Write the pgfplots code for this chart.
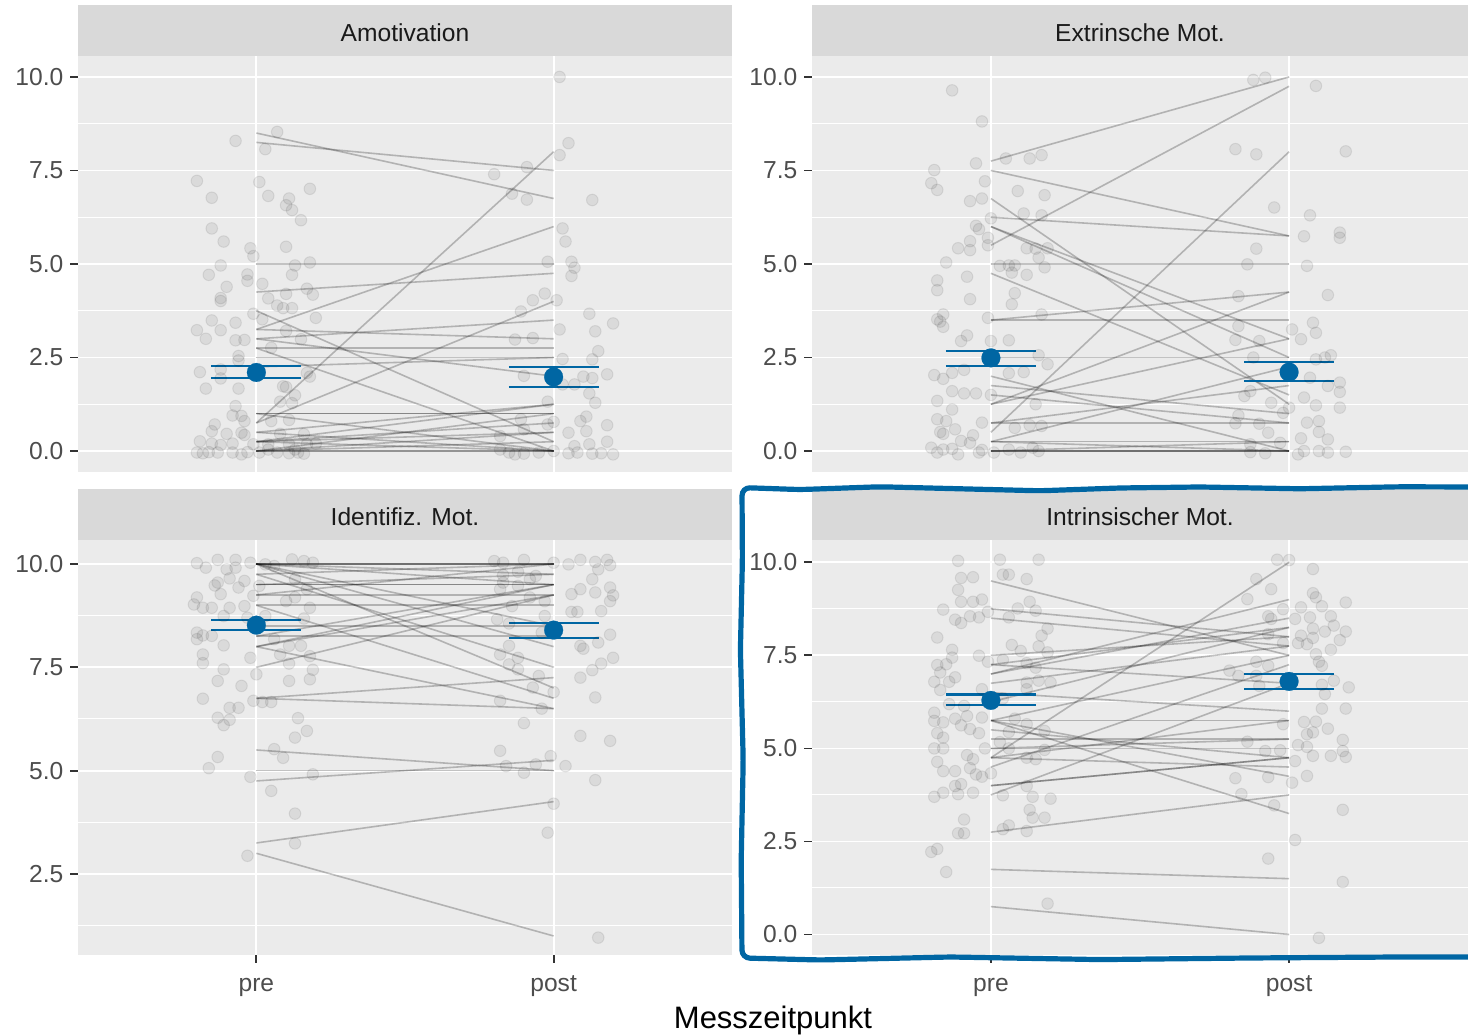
\documentclass[border=0pt]{standalone}
\usepackage{fontspec}
\setmainfont{Liberation Sans}
\usepackage{pgfplots}
\pgfplotsset{compat=1.18}
\definecolor{panelbg}{HTML}{EBEBEB}
\definecolor{stripbg}{HTML}{D9D9D9}
\definecolor{striptxt}{HTML}{1A1A1A}
\definecolor{ticklc}{HTML}{4D4D4D}
\definecolor{tickc}{HTML}{333333}
\definecolor{meanblue}{HTML}{0066A3}
\pgfplotsset{
  facet/.style={
    scale only axis, anchor=south west,
    xmin=0.4, xmax=2.6,
    axis background/.style={fill=panelbg},
    axis line style={draw=none},
    xtick={1,2},
    ytick={0,2.5,5,7.5,10},
    yticklabels={0.0,2.5,5.0,7.5,10.0},
    minor ytick={1.25,3.75,6.25,8.75},
    grid=both,
    major grid style={white, line width=0.9pt},
    minor grid style={white, line width=0.5pt},
    tick align=outside,
    major tick length=3.8pt,
    minor tick length=0pt,
    tick style={color=tickc, line width=0.9pt},
    tick pos=left,
    ticklabel style={font=\fontsize{12.3}{14}\selectfont, text=ticklc},
    xticklabel style={text height=0.72em, text depth=0.2em, yshift=-3.5pt},
    clip=true,
  },
  pts/.style={only marks, mark=*, mark size=2.9pt,
    mark options={fill=black, fill opacity=0.07, draw=black, draw opacity=0.08, line width=0.5pt}},
  segl/.style={black, draw opacity=0.24, line width=0.8pt, mark=none},
  meanpt/.style={only marks, mark=*, mark size=4.7pt, mark options={fill=meanblue, draw=meanblue, line width=0.1pt}},
  ebar/.style={meanblue, line width=1.15pt, mark=none},
}
\newcommand{\seg}[2]{\addplot[segl] coordinates {(1,#1) (2,#2)};}
\newcommand{\eb}[2]{\addplot[ebar] coordinates {(#1-0.151,#2) (#1+0.151,#2)};}
\begin{document}
\begin{tikzpicture}
\useasboundingbox (0,0) rectangle (734pt,518pt);
% strips
\fill[stripbg] (39pt,490pt) rectangle (366pt,515.5pt);
\fill[stripbg] (406pt,490pt) rectangle (734pt,515.5pt);
\fill[stripbg] (39pt,248pt) rectangle (366pt,273.5pt);
\fill[stripbg] (406pt,248pt) rectangle (734pt,273.5pt);
\node[text=striptxt, font=\fontsize{12.3}{14}\selectfont] at (202.5pt,501.8pt) {Amotivation};
\node[text=striptxt, font=\fontsize{12.3}{14}\selectfont] at (570pt,501.8pt) {Extrinsche Mot.};
\node[text=striptxt, font=\fontsize{12.3}{14}\selectfont] at (202.5pt,259.8pt) {Identifiz. Mot.};
\node[text=striptxt, font=\fontsize{12.3}{14}\selectfont] at (570pt,259.8pt) {Intrinsischer Mot.};

% ---------- Panel 1: Amotivation
\begin{axis}[facet, at={(39pt,282pt)}, width=327pt, height=208pt,
  ymin=-0.56, ymax=10.56, xticklabels={}, xtick style={draw=none}]
\addplot[pts] table {
0.93 8.29
1.07 8.53
1.03 8.07
0.80 7.22
1.01 7.19
0.85 6.77
1.04 6.82
1.18 7.01
1.11 6.75
1.10 6.57
1.12 6.44
1.15 6.17
0.85 5.95
0.89 5.60
0.98 5.42
0.99 5.21
1.10 5.46
1.18 5.04
1.13 4.96
0.88 4.96
0.84 4.71
1.12 4.71
0.97 4.72
0.97 4.55
1.02 4.47
0.90 4.39
1.17 4.34
1.19 4.18
1.10 4.20
0.88 4.09
0.88 4.01
1.04 4.08
1.07 3.89
1.09 3.82
1.12 3.82
0.99 3.67
0.85 3.49
0.93 3.43
1.02 3.52
1.20 3.56
0.80 3.23
0.88 3.23
0.83 3.00
0.93 2.96
0.96 2.97
1.10 3.21
1.15 2.99
1.05 2.76
0.94 2.54
0.94 2.42
0.81 2.11
0.88 2.18
0.88 1.94
1.17 2.09
1.18 1.99
0.83 1.67
0.94 1.67
1.09 1.73
1.13 1.49
1.10 1.71
0.93 1.20
1.08 1.32
1.12 1.28
0.92 0.95
0.95 0.94
0.96 0.80
1.05 0.80
1.11 0.83
0.86 0.71
0.85 0.53
0.90 0.46
0.95 0.49
0.96 0.43
1.08 0.46
1.16 0.45
0.81 0.26
0.85 0.20
0.88 0.16
0.92 0.20
0.99 0.18
1.04 0.18
1.11 0.18
1.17 0.18
1.20 0.20
0.80 -0.04
0.82 -0.06
0.84 -0.03
0.87 -0.04
0.92 -0.04
0.95 -0.09
0.97 -0.03
1.01 -0.04
1.07 -0.04
1.11 -0.06
1.14 -0.04
1.16 -0.07
1.04 0.04
1.13 0.04
};
\addplot[pts] table {
2.02 10.0
2.05 8.23
2.02 7.91
1.80 7.40
1.91 7.59
1.86 6.88
1.91 6.72
2.13 6.71
2.03 5.95
2.04 5.60
1.98 5.06
2.06 5.06
2.07 4.90
2.06 4.68
1.97 4.21
1.93 4.03
2.01 4.03
1.89 3.73
2.12 3.67
2.20 3.41
2.02 3.25
2.14 3.20
1.87 2.98
1.93 3.02
2.15 2.67
2.13 2.45
2.03 2.46
2.13 1.95
2.18 2.05
1.90 2.01
2.10 1.99
2.07 1.78
2.03 1.78
2.12 1.54
1.98 1.32
2.14 1.29
2.11 0.92
1.89 0.85
2.00 0.78
1.98 0.71
2.09 0.80
2.18 0.69
2.05 0.49
2.11 0.53
1.90 0.58
1.82 0.40
2.18 0.25
2.12 0.18
2.07 0.13
1.82 0.04
1.85 -0.04
1.87 -0.09
1.90 -0.07
1.95 -0.04
2.00 0.00
2.05 -0.06
2.08 -0.04
2.13 -0.07
2.16 -0.06
2.20 -0.09
};
\seg{8.5}{6.75}
\seg{8.25}{7.5}
\seg{0.75}{8.0}
\seg{3.25}{6.0}
\seg{5.0}{5.0}
\seg{4.25}{4.75}
\seg{3.75}{0.25}
\seg{0.75}{4.0}
\seg{3.25}{3.0}
\seg{3.0}{3.5}
\seg{2.75}{2.75}
\seg{2.5}{2.5}
\seg{2.25}{2.5}
\seg{3.0}{2.0}
\seg{2.75}{0.0}
\seg{1.0}{1.0}
\seg{1.0}{1.0}
\seg{0.5}{1.25}
\seg{0.25}{1.25}
\seg{0.0}{1.0}
\seg{0.25}{0.75}
\seg{0.25}{0.5}
\seg{0.0}{0.25}
\seg{0.0}{0.0}
\seg{0.0}{0.0}
\seg{0.25}{0.0}
\seg{0.5}{0.0}
\seg{0.0}{0.5}
\seg{1.0}{0.0}
\eb{1}{2.27}\eb{1}{1.95}\eb{2}{2.25}\eb{2}{1.71}
\addplot[meanpt] coordinates {(1,2.10) (2,1.98)};
\end{axis}

% ---------- Panel 2: Extrinsische
\begin{axis}[facet, at={(406pt,282pt)}, width=328pt, height=208pt,
  ymin=-0.56, ymax=10.56, xticklabels={}, xtick style={draw=none}]
\addplot[pts] table {
0.87 9.64
0.97 8.81
0.95 7.69
1.05 7.82
1.13 7.82
1.17 7.91
0.81 7.51
0.80 7.16
0.82 6.98
0.98 7.21
0.93 6.68
0.97 6.75
1.09 6.95
1.18 6.84
1.00 6.22
1.11 6.35
1.17 6.30
0.95 6.02
0.96 5.93
0.99 5.70
0.93 5.61
0.89 5.42
0.93 5.37
0.99 5.50
1.12 5.42
1.15 5.41
1.19 5.42
1.16 5.17
0.85 5.04
1.03 4.95
1.06 4.96
1.08 4.96
1.18 4.91
0.92 4.66
1.07 4.77
1.12 4.71
0.82 4.56
0.82 4.30
1.08 4.22
0.93 4.06
1.07 3.92
0.84 3.65
0.82 3.52
0.83 3.46
0.84 3.32
0.99 3.56
1.17 3.65
0.92 3.09
0.90 2.94
1.00 2.94
1.06 2.96
1.16 2.56
1.19 2.32
0.81 2.03
0.84 1.93
0.87 2.09
0.91 2.17
1.06 2.08
1.11 2.11
0.87 1.60
0.91 1.54
0.95 1.54
1.00 1.50
0.82 1.34
0.87 1.11
1.15 1.25
0.82 0.85
0.85 0.80
0.97 0.76
1.08 0.62
1.13 0.69
1.17 0.67
0.88 0.58
0.83 0.51
0.84 0.46
0.94 0.42
0.90 0.27
0.93 0.22
0.80 0.09
0.84 0.04
0.82 -0.04
0.87 0.06
0.89 -0.09
0.96 -0.04
0.97 0.03
1.06 0.04
1.10 -0.04
1.14 0.09
1.16 0.00
1.01 -0.04
};
\addplot[pts] table {
1.88 9.92
1.92 9.98
2.09 9.76
1.82 8.07
1.89 7.93
2.19 8.01
1.95 6.51
2.07 6.30
2.05 5.74
2.17 5.70
2.17 5.84
1.89 5.41
1.86 4.99
2.06 4.95
1.83 4.14
2.13 4.17
1.83 3.34
2.01 3.25
2.08 3.43
2.09 3.16
1.82 2.97
1.90 2.94
2.04 2.99
1.88 2.50
2.14 2.56
2.09 2.45
2.12 2.50
2.07 1.96
2.17 1.83
2.13 1.74
2.17 1.58
1.85 1.47
1.87 1.60
1.94 1.29
2.05 1.43
2.09 1.22
2.17 1.16
2.00 1.16
1.83 0.95
1.98 1.02
1.82 0.74
1.90 0.73
2.06 0.76
2.10 0.80
1.93 0.49
2.04 0.34
2.10 0.51
2.13 0.31
1.87 0.18
1.87 -0.03
1.92 -0.06
1.97 0.22
2.03 -0.09
2.05 0.00
2.13 -0.04
2.19 -0.02
2.10 0.00
};
\seg{7.75}{10.0}
\seg{5.5}{9.75}
\seg{0.5}{8.0}
\seg{7.5}{5.75}
\seg{6.75}{1.25}
\seg{6.25}{5.75}
\seg{6.0}{3.0}
\seg{6.0}{2.5}
\seg{5.0}{5.0}
\seg{4.75}{1.5}
\seg{3.5}{4.25}
\seg{3.5}{3.5}
\seg{2.5}{2.5}
\seg{2.0}{0.0}
\seg{1.25}{4.25}
\seg{0.25}{2.25}
\seg{0.75}{1.75}
\seg{1.75}{1.0}
\seg{1.5}{0.75}
\seg{0.75}{0.75}
\seg{0.25}{0.25}
\seg{0.0}{0.0}
\seg{0.0}{0.0}
\seg{0.0}{0.0}
\seg{0.0}{0.25}
\seg{0.25}{0.0}
\seg{1.25}{3.0}
\eb{1}{2.67}\eb{1}{2.27}\eb{2}{2.38}\eb{2}{1.87}
\addplot[meanpt] coordinates {(1,2.49) (2,2.11)};
\end{axis}

% ---------- Panel 3: Identifiz.
\begin{axis}[facet, at={(39pt,40.5pt)}, width=327pt, height=207.5pt,
  ymin=0.54, ymax=10.58, xticklabels={pre,post}]
\addplot[pts] table {
0.80 10.02
0.83 9.91
0.87 10.10
0.90 9.87
0.93 10.10
0.93 9.91
0.98 10.03
1.03 9.99
1.06 9.95
1.12 10.11
1.16 10.07
1.19 10.03
0.86 9.48
0.87 9.55
0.91 9.65
0.94 9.43
0.96 9.59
1.01 9.47
1.13 9.63
1.17 9.39
0.80 9.19
0.79 9.02
0.82 8.94
0.85 8.94
0.88 9.27
0.91 8.94
0.96 8.98
0.99 9.23
1.10 9.10
1.13 9.19
1.18 8.94
0.89 8.74
0.97 8.70
1.03 8.74
1.16 8.68
0.80 8.34
0.82 8.27
0.85 8.26
0.89 8.03
0.80 8.18
1.06 8.18
1.11 8.02
1.15 8.02
0.82 7.81
0.82 7.60
0.98 7.73
1.00 7.33
1.08 7.81
1.11 7.59
1.18 7.77
0.89 7.45
0.87 7.17
0.95 7.05
1.11 7.17
1.18 7.21
1.19 7.44
0.82 6.74
0.99 6.69
1.02 6.66
1.05 6.66
0.91 6.52
0.94 6.52
0.87 6.28
0.91 6.23
0.89 6.10
1.14 6.27
1.13 5.80
1.17 5.96
1.06 5.52
1.09 5.31
0.87 5.33
0.84 5.06
0.98 4.85
1.19 4.91
1.05 4.51
1.13 3.96
1.13 3.24
0.97 2.94
};
\addplot[pts] table {
1.80 10.07
1.83 10.03
1.90 10.10
2.00 10.03
2.05 9.99
2.09 10.10
2.14 10.05
2.18 10.10
2.19 9.97
2.15 9.87
1.83 9.73
1.88 9.81
1.94 9.71
1.83 9.55
2.13 9.63
1.82 9.39
1.88 9.47
1.92 9.63
2.09 9.39
2.19 9.43
2.06 9.27
2.14 9.31
1.92 9.19
1.97 9.10
2.20 9.24
1.86 8.98
2.19 9.10
2.16 8.86
2.06 8.84
2.08 8.84
1.97 8.74
1.81 8.66
1.85 8.56
1.96 8.34
2.19 8.29
1.85 8.02
2.09 8.02
2.10 7.95
2.15 8.10
1.82 7.81
1.88 7.73
2.20 7.73
1.85 7.57
2.16 7.59
1.88 7.45
2.13 7.43
2.09 7.25
1.95 7.29
1.93 7.01
2.00 6.90
2.14 6.77
1.82 6.69
1.96 6.50
1.90 6.15
2.09 5.84
2.19 5.72
1.82 5.48
1.99 5.35
1.94 5.15
1.84 5.11
2.04 5.11
1.90 4.95
2.14 4.77
2.00 4.20
1.98 3.50
2.15 0.96
};
\seg{10}{10}
\seg{10}{10}
\seg{10}{10}
\seg{10}{9.75}
\seg{10}{9.5}
\seg{9.75}{10}
\seg{9.5}{9.5}
\seg{9.5}{9.5}
\seg{9.5}{9.75}
\seg{9.25}{10}
\seg{9.25}{9.25}
\seg{9.0}{9.0}
\seg{10}{8.5}
\seg{10}{8.0}
\seg{9.75}{7.5}
\seg{10}{7.0}
\seg{9.0}{6.75}
\seg{8.25}{9.5}
\seg{8.25}{8.25}
\seg{8.0}{9.5}
\seg{8.0}{9.25}
\seg{7.5}{9.25}
\seg{8.0}{6.5}
\seg{6.75}{7.25}
\seg{6.75}{6.5}
\seg{5.5}{5.0}
\seg{5.0}{5.0}
\seg{4.75}{5.25}
\seg{3.25}{4.25}
\seg{3.0}{1.0}
\seg{8.5}{8.5}
\eb{1}{8.64}\eb{1}{8.40}\eb{2}{8.57}\eb{2}{8.21}
\addplot[meanpt] coordinates {(1,8.52) (2,8.40)};
\end{axis}

% ---------- Panel 4: Intrinsischer
\begin{axis}[facet, at={(406pt,40.5pt)}, width=328pt, height=207.5pt,
  ymin=-0.55, ymax=10.6, xticklabels={pre,post}]
\addplot[pts] table {
0.89 10.04
1.03 10.07
1.16 10.07
0.90 9.58
0.94 9.60
1.04 9.67
1.06 9.67
1.12 9.55
0.89 9.26
0.90 8.94
0.94 8.94
0.97 9.00
1.13 8.94
0.84 8.73
0.88 8.46
0.90 8.37
0.93 8.55
0.96 8.52
0.99 8.67
1.06 8.52
1.09 8.76
1.15 8.70
1.19 8.22
0.82 7.98
1.17 8.03
0.87 7.65
0.87 7.44
1.07 7.78
1.10 7.62
1.16 7.74
1.19 7.58
0.96 7.49
0.99 7.33
1.04 7.38
0.82 7.24
0.85 7.26
0.83 7.04
1.12 7.29
1.15 7.17
0.81 6.79
0.86 6.79
0.88 6.91
1.12 6.77
1.16 6.82
1.20 6.77
0.83 6.57
0.97 6.59
1.12 6.59
1.04 6.34
0.81 5.96
0.86 6.19
0.91 6.14
0.88 5.80
0.92 5.87
0.81 5.74
0.84 5.70
0.97 5.83
1.08 5.80
1.12 5.65
0.90 5.62
0.93 5.52
0.96 5.41
0.82 5.41
0.84 5.29
1.06 5.44
1.18 5.47
1.03 5.17
0.81 5.00
0.84 5.00
0.98 5.00
1.06 5.00
1.18 4.96
0.92 4.82
0.94 4.71
1.12 4.75
1.15 4.71
0.82 4.64
0.84 4.39
0.88 4.39
0.93 4.47
0.95 4.30
0.97 4.24
1.00 4.33
0.88 3.99
0.90 4.04
1.12 3.99
0.81 3.70
0.84 3.81
0.89 3.77
0.94 3.81
1.04 3.74
1.14 3.70
1.20 3.65
1.13 3.35
0.91 3.09
1.14 3.14
1.18 3.14
0.89 2.72
0.91 2.72
1.06 2.93
1.04 2.83
1.12 2.78
0.80 2.22
0.82 2.30
0.85 1.68
1.19 0.83
};
\addplot[pts] table {
1.96 10.07
2.00 10.06
2.08 9.82
1.89 9.55
1.94 9.28
1.86 9.01
2.08 9.17
2.09 9.06
2.19 8.92
2.11 8.82
1.98 8.74
2.04 8.79
1.93 8.55
2.02 8.48
2.07 8.52
2.14 8.55
1.94 8.48
2.08 8.22
2.15 8.30
2.12 8.14
2.19 8.14
1.93 8.07
2.04 8.03
2.08 7.97
2.17 7.91
2.03 7.83
2.06 7.80
1.98 7.83
2.14 7.65
2.09 7.53
1.89 7.33
2.10 7.33
2.11 7.22
1.80 7.09
1.83 6.95
1.89 6.95
1.93 7.22
2.15 6.82
2.11 6.71
2.20 6.64
1.90 6.68
2.12 6.46
2.11 6.07
2.19 6.07
2.05 5.71
2.09 5.72
1.98 5.65
2.13 5.53
2.06 5.38
2.08 5.43
2.18 5.23
1.86 5.18
2.03 5.09
2.06 5.04
1.92 4.93
1.97 4.95
2.18 4.93
2.14 4.80
2.08 4.80
2.19 4.77
2.02 4.66
1.82 4.20
1.93 4.23
2.01 4.08
2.06 4.26
1.84 3.77
1.95 3.47
2.18 3.35
2.02 2.54
1.93 2.04
2.18 1.41
2.10 -0.09
};
\seg{9.5}{7.5}
\seg{8.75}{8.0}
\seg{8.5}{7.75}
\seg{7.0}{9.0}
\seg{7.0}{8.5}
\seg{4.75}{10.0}
\seg{7.5}{8.0}
\seg{7.25}{8.25}
\seg{7.25}{6.75}
\seg{6.75}{7.75}
\seg{6.5}{6.0}
\seg{5.75}{5.75}
\seg{5.75}{3.25}
\seg{5.75}{4.25}
\seg{5.5}{4.75}
\seg{5.75}{7.5}
\seg{5.0}{5.0}
\seg{5.0}{5.25}
\seg{4.75}{5.75}
\seg{4.5}{7.25}
\seg{4.0}{4.75}
\seg{4.0}{4.75}
\seg{3.75}{6.75}
\seg{2.75}{3.75}
\seg{1.75}{1.5}
\seg{0.75}{0.0}
\seg{6.25}{8.25}
\seg{5.25}{5.25}
\seg{4.75}{4.5}
\eb{1}{6.45}\eb{1}{6.16}\eb{2}{6.99}\eb{2}{6.59}
\addplot[meanpt] coordinates {(1,6.29) (2,6.80)};
\end{axis}

\node[font=\fontsize{15.5}{18}\selectfont] at (386.5pt,8pt) {Messzeitpunkt};

% hand-drawn highlight around the fourth panel
\draw[meanblue, line width=2.6pt, rounded corners=4pt, line cap=round]
  (737.5pt,274.5pt) -- (700pt,274.6pt) -- (650pt,273.6pt) -- (600pt,274.5pt) -- (560pt,274pt)
  -- (520pt,272.6pt) -- (480pt,273.6pt) -- (440pt,274.6pt) -- (400pt,273.2pt) -- (371pt,274.2pt)
  -- (371.2pt,238pt) -- (370.2pt,193pt) -- (371.6pt,138pt) -- (370.6pt,88pt) -- (371pt,39pt)
  -- (410pt,38pt) -- (475pt,39.5pt) -- (550pt,38.2pt) -- (625pt,39pt) -- (700pt,39.5pt) -- (737.5pt,39.5pt);
\end{tikzpicture}
\end{document}
